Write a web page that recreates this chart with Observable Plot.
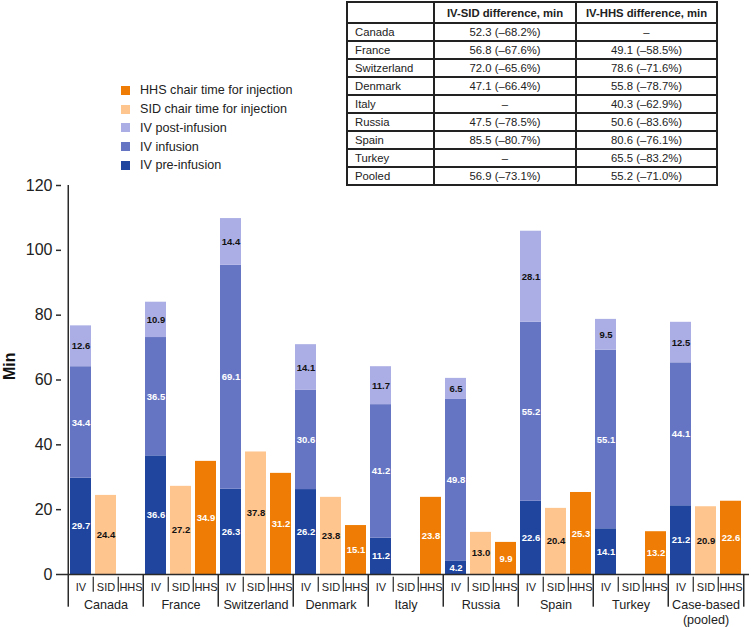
<!DOCTYPE html>
<html>
<head>
<meta charset="utf-8">
<script src="https://cdn.jsdelivr.net/npm/d3@7"></script>
<script src="https://cdn.jsdelivr.net/npm/@observablehq/plot@0.6"></script>
<style>
  html, body { margin: 0; padding: 0; background: #fff; }
  #wrap { position: relative; width: 751px; height: 627px; font-family: "Liberation Sans", Arial, sans-serif; color: #222; overflow: hidden; }
  #chart { position: absolute; left: 0; top: 0; }
  #legend { position: absolute; left: 121px; top: 81px; font-size: 12.6px; }
  #legend .item { height: 18.75px; display: flex; align-items: center; }
  #legend .sw { width: 9px; height: 9px; margin-right: 10px; }
  #tbl { position: absolute; left: 346px; top: 1px; border-collapse: collapse; font-size: 11.3px; color: #222; }
  #tbl td, #tbl th { border: 2px solid #222; padding: 0; height: 16px; line-height: 16px; }
  #tbl th { height: 19px; font-weight: bold; text-align: center; }
  #tbl td.c { text-align: center; }
  #tbl td.n { text-align: left; padding-left: 7px; }
</style>
</head>
<body>
<div id="wrap">
  <div id="chart"></div>
  <div id="legend"></div>
  <table id="tbl"></table>
</div>
<script>
// ---- data ----
const countries = ["Canada", "France", "Switzerland", "Denmark", "Italy", "Russia", "Spain", "Turkey", "Case-based\n(pooled)"];
const subgroups = ["IV", "SID", "HHS"];
const ivPre      = [29.7, 36.6, 26.3, 26.2, 11.2, 4.2, 22.6, 14.1, 21.2];
const ivInfusion = [34.4, 36.5, 69.1, 30.6, 41.2, 49.8, 55.2, 55.1, 44.1];
const ivPost     = [12.6, 10.9, 14.4, 14.1, 11.7, 6.5, 28.1, 9.5, 12.5];
const sidChair   = [24.4, 27.2, 37.8, 23.8, null, 13.0, 20.4, null, 20.9];
const hhsChair   = [null, 34.9, 31.2, 15.1, 23.8, 9.9, 25.3, 13.2, 22.6];
const yTicks = [0, 20, 40, 60, 80, 100, 120];

const seriesNames = ["IV pre-infusion", "IV infusion", "IV post-infusion", "SID chair time for injection", "HHS chair time for injection"];
const legendOrder = ["HHS chair time for injection", "SID chair time for injection", "IV post-infusion", "IV infusion", "IV pre-infusion"];

const tableCountries = ["Canada", "France", "Switzerland", "Denmark", "Italy", "Russia", "Spain", "Turkey", "Pooled"];
const ivSidDiff = ["52.3 (\u201368.2%)", "56.8 (\u201367.6%)", "72.0 (\u201365.6%)", "47.1 (\u201366.4%)", "\u2013", "47.5 (\u201378.5%)", "85.5 (\u201380.7%)", "\u2013", "56.9 (\u201373.1%)"];
const ivHhsDiff = ["\u2013", "49.1 (\u201358.5%)", "78.6 (\u201371.6%)", "55.8 (\u201378.7%)", "40.3 (\u201362.9%)", "50.6 (\u201383.6%)", "80.6 (\u201376.1%)", "65.5 (\u201383.2%)", "55.2 (\u201371.0%)"];
const tableHeader = ["", "IV-SID difference, min", "IV-HHS difference, min"];

// ---- styles ----
const fillColor = {
  "IV pre-infusion": "#1f459f",
  "IV infusion": "#6675c3",
  "IV post-infusion": "#abaee4",
  "SID chair time for injection": "#ffc58f",
  "HHS chair time for injection": "#ef7d05"
};
const labelColor = {
  "IV pre-infusion": "#ffffff",
  "IV infusion": "#ffffff",
  "IV post-infusion": "#111111",
  "SID chair time for injection": "#111111",
  "HHS chair time for injection": "#ffffff"
};

// ---- build table of segments ----
const keys = [];
countries.forEach((c, i) => subgroups.forEach(s => keys.push(`${i}|${s}`)));
const segs = [];
countries.forEach((c, i) => {
  segs.push({key: `${i}|IV`, seg: seriesNames[0], value: ivPre[i]});
  segs.push({key: `${i}|IV`, seg: seriesNames[1], value: ivInfusion[i]});
  segs.push({key: `${i}|IV`, seg: seriesNames[2], value: ivPost[i]});
  if (sidChair[i] != null) segs.push({key: `${i}|SID`, seg: seriesNames[3], value: sidChair[i]});
  if (hhsChair[i] != null) segs.push({key: `${i}|HHS`, seg: seriesNames[4], value: hhsChair[i]});
});

// ---- layout ----
const W = 751, H = 627, mL = 61, mR = 2, mT = 185, mB = 53;
const step = (W - mL - mR) / keys.length;
const k = (H - mT - mB) / 120; // px per minute, for below-axis separators
const major = -32.7 / k, minorTop = -2.7 / k, minorBot = -17.7 / k;
const lineColor = "#2a2a2a";

const majorKeys = countries.map((c, i) => `${i}|IV`);
const minorKeys = countries.flatMap((c, i) => [`${i}|SID`, `${i}|HHS`]);
const midKeys = countries.map((c, i) => `${i}|SID`);

const chart = Plot.plot({
  width: W, height: H,
  marginLeft: mL, marginRight: mR, marginTop: mT, marginBottom: mB,
  style: {fontFamily: "'Liberation Sans', Arial, sans-serif", background: "transparent", color: "#222", overflow: "visible"},
  x: {type: "band", domain: keys, paddingInner: 0, paddingOuter: 0},
  y: {domain: [0, 120]},
  color: {type: "identity"},
  marks: [
    Plot.barY(segs, {x: "key", y: "value", fill: d => fillColor[d.seg], insetLeft: 2, insetRight: 2}),
    Plot.text(segs, Plot.stackY({x: "key", y: "value", text: d => d.value.toFixed(1), fill: d => labelColor[d.seg], fontSize: 9.5, fontWeight: "bold"})),
    Plot.axisY({ticks: yTicks, tickSize: 5, tickPadding: 4, fontSize: 16, label: null, stroke: lineColor, strokeWidth: 1.5}),
    Plot.text(["Min"], {frameAnchor: "left", dx: -52, rotate: -90, text: d => d, fontSize: 16, fontWeight: "bold", fill: "#111"}),
    Plot.axisX({ticks: keys, tickFormat: d => d.split("|")[1], tickSize: 0, tickPadding: 9, fontSize: 11, label: null}),
    Plot.axisX({ticks: midKeys, tickFormat: d => countries[+d.split("|")[0]], tickSize: 0, tickPadding: 24, fontSize: 12.6, lineHeight: 1.18, label: null}),
    Plot.ruleY([0], {stroke: lineColor, strokeWidth: 1.5}),
    Plot.ruleX(majorKeys, {x: d => d, y1: 0, y2: major, dx: -step / 2, stroke: lineColor, strokeWidth: 1.5}),
    Plot.ruleX([keys[keys.length - 1]], {x: d => d, y1: 0, y2: major, dx: step / 2, stroke: lineColor, strokeWidth: 1.5}),
    Plot.ruleX([keys[0]], {x: d => d, y1: 120, y2: 0, dx: -step / 2, stroke: lineColor, strokeWidth: 1.5}),
    Plot.ruleX(minorKeys, {x: d => d, y1: minorTop, y2: minorBot, dx: -step / 2, stroke: lineColor, strokeWidth: 1.2})
  ]
});
document.getElementById("chart").appendChild(chart);

// ---- legend ----
const leg = document.getElementById("legend");
legendOrder.forEach(name => {
  const it = document.createElement("div");
  it.className = "item";
  const sw = document.createElement("span");
  sw.className = "sw";
  sw.style.background = fillColor[name];
  const tx = document.createElement("span");
  tx.textContent = name;
  it.appendChild(sw); it.appendChild(tx);
  leg.appendChild(it);
});

// ---- table ----
const tbl = document.getElementById("tbl");
const colW = [85, 140, 139];
const hr = document.createElement("tr");
tableHeader.forEach((h, j) => {
  const th = document.createElement("th");
  th.textContent = h;
  th.style.width = colW[j] + "px";
  hr.appendChild(th);
});
tbl.appendChild(hr);
tableCountries.forEach((c, i) => {
  const tr = document.createElement("tr");
  [c, ivSidDiff[i], ivHhsDiff[i]].forEach((v, j) => {
    const td = document.createElement("td");
    td.textContent = v;
    td.className = j === 0 ? "n" : "c";
    tr.appendChild(td);
  });
  tbl.appendChild(tr);
});
</script>
</body>
</html>
